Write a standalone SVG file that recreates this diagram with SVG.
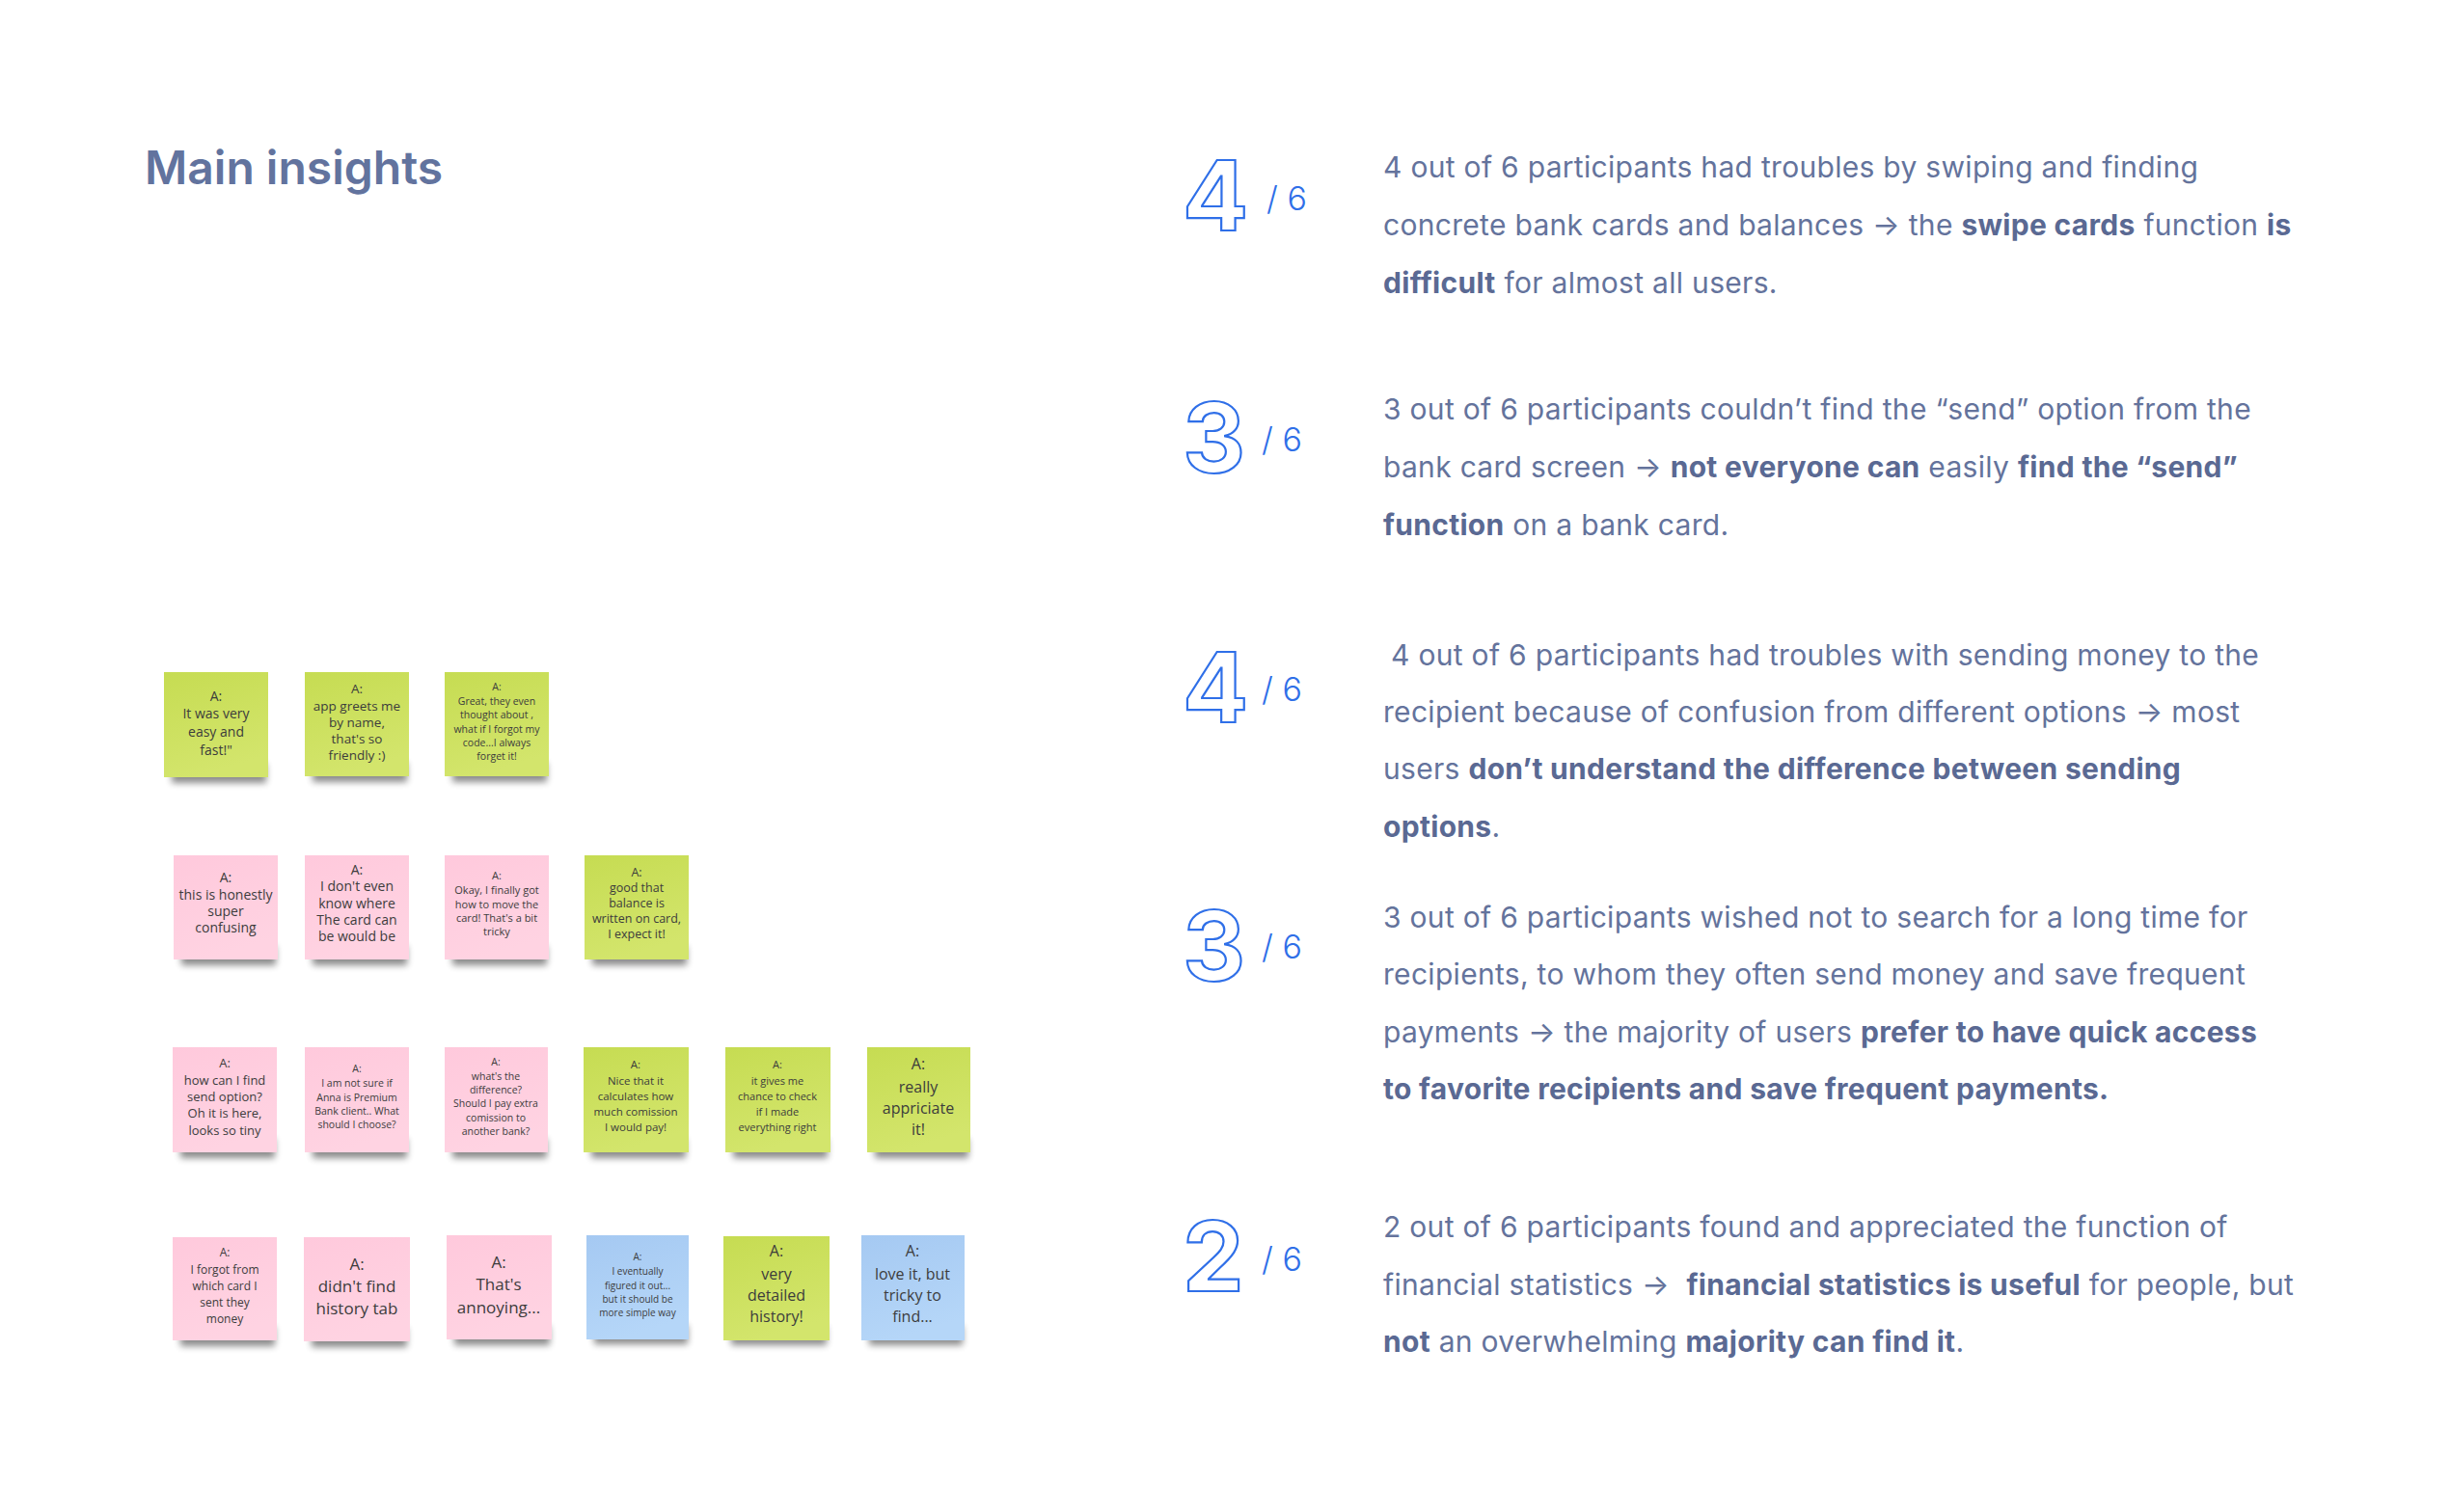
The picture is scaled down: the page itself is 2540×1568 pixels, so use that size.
<svg xmlns="http://www.w3.org/2000/svg" width="2540" height="1568" viewBox="0 0 2540 1568">
<style>
.title{font-family:Inter,"Liberation Sans",sans-serif;font-weight:600;font-size:48px;fill:#62739e}
.num{font-family:Inter,"Liberation Sans",sans-serif;font-weight:700;font-size:101px;fill:#fff;stroke:#2f6fe8;stroke-width:2.2}
.den{font-family:Inter,"Liberation Sans",sans-serif;font-weight:300;font-size:34px;fill:#2f6fe8}
.body{font-family:Inter,"Liberation Sans",sans-serif;font-weight:400;font-size:30px;letter-spacing:0.3px;fill:#64739c}
.b{font-weight:700;fill:#5a6993}
.nt{font-family:"Open Sans","Liberation Sans",sans-serif;fill:#3c3c3c;text-anchor:middle}
.g{fill:url(#gg)}
.p{fill:url(#gp)}
.bl{fill:url(#gb)}
.sh{fill:#000;opacity:0.45;filter:url(#blur)}
</style>
<defs>
<linearGradient id="gg" x1="0" y1="0" x2="0.3" y2="1"><stop offset="0" stop-color="#c6dc52"/><stop offset="1" stop-color="#d3e56c"/></linearGradient>
<linearGradient id="gp" x1="0" y1="0" x2="0.3" y2="1"><stop offset="0" stop-color="#ffc9dc"/><stop offset="1" stop-color="#ffd3e2"/></linearGradient>
<linearGradient id="gb" x1="0" y1="0" x2="0.3" y2="1"><stop offset="0" stop-color="#a5c9f2"/><stop offset="1" stop-color="#b5d6f8"/></linearGradient>
<filter id="blur" x="-20%" y="-50%" width="140%" height="200%"><feGaussianBlur stdDeviation="3.5"/></filter>
</defs>
<rect width="2540" height="1568" fill="#ffffff"/>

<text class="title" x="150" y="191">Main insights</text>

<g id="insight-1">
<text class="num" x="1226" y="239">4</text>
<text class="den" x="1313" y="218">/ 6</text>
<text class="body" x="1434" y="184">4 out of 6 participants had troubles by swiping and finding</text>
<text class="body" x="1434" y="244">concrete bank cards and balances → the <tspan class="b">swipe cards</tspan> function <tspan class="b">is</tspan></text>
<text class="body" x="1434" y="304"><tspan class="b">difficult</tspan> for almost all users.</text>
</g>

<g id="insight-2">
<text class="num" x="1226" y="490">3</text>
<text class="den" x="1308" y="468">/ 6</text>
<text class="body" x="1434" y="435">3 out of 6 participants couldn’t find the “send” option from the</text>
<text class="body" x="1434" y="495">bank card screen → <tspan class="b">not everyone can</tspan> easily <tspan class="b">find the “send”</tspan></text>
<text class="body" x="1434" y="555"><tspan class="b">function</tspan> on a bank card.</text>
</g>

<g id="insight-3">
<text class="num" x="1226" y="749">4</text>
<text class="den" x="1308" y="727">/ 6</text>
<text class="body" x="1442" y="690">4 out of 6 participants had troubles with sending money to the</text>
<text class="body" x="1434" y="749">recipient because of confusion from different options → most</text>
<text class="body" x="1434" y="808">users <tspan class="b">don’t understand the difference between sending</tspan></text>
<text class="body" x="1434" y="868"><tspan class="b">options</tspan>.</text>
</g>

<g id="insight-4">
<text class="num" x="1226" y="1017">3</text>
<text class="den" x="1308" y="994">/ 6</text>
<text class="body" x="1434" y="962">3 out of 6 participants wished not to search for a long time for</text>
<text class="body" x="1434" y="1021">recipients, to whom they often send money and save frequent</text>
<text class="body" x="1434" y="1081">payments → the majority of users <tspan class="b">prefer to have quick access</tspan></text>
<text class="body" x="1434" y="1140"><tspan class="b">to favorite recipients and save frequent payments.</tspan></text>
</g>

<g id="insight-5">
<text class="num" x="1226" y="1339">2</text>
<text class="den" x="1308" y="1318">/ 6</text>
<text class="body" x="1434" y="1283">2 out of 6 participants found and appreciated the function of</text>
<text class="body" x="1434" y="1343">financial statistics →&#160; <tspan class="b">financial statistics is useful</tspan> for people, but</text>
<text class="body" x="1434" y="1402"><tspan class="b">not</tspan> an overwhelming <tspan class="b">majority can find it</tspan>.</text>
</g>

<g id="notes">
<g id="note-r1-1">
<rect class="sh" x="178" y="792" width="98" height="20"/>
<rect class="g" x="170" y="697" width="108" height="109"/>
<text class="nt" font-size="14"><tspan x="224" y="727">A:</tspan><tspan x="224" y="745">It was very</tspan><tspan x="224" y="764">easy and</tspan><tspan x="224" y="783">fast!"</tspan></text>
</g>
<g id="note-r1-2">
<rect class="sh" x="324" y="791" width="98" height="20"/>
<rect class="g" x="316" y="697" width="108" height="108"/>
<text class="nt" font-size="13.5"><tspan x="370" y="719">A:</tspan><tspan x="370" y="737">app greets me</tspan><tspan x="370" y="754">by name,</tspan><tspan x="370" y="771">that's so</tspan><tspan x="370" y="788">friendly :)</tspan></text>
</g>
<g id="note-r1-3">
<rect class="sh" x="469" y="791" width="98" height="20"/>
<rect class="g" x="461" y="697" width="108" height="108"/>
<text class="nt" font-size="10.5"><tspan x="515" y="716">A:</tspan><tspan x="515" y="731">Great, they even</tspan><tspan x="515" y="745">thought about ,</tspan><tspan x="515" y="760">what if I forgot my</tspan><tspan x="515" y="774">code...I always</tspan><tspan x="515" y="788">forget it!</tspan></text>
</g>

<g id="note-r2-1">
<rect class="sh" x="188" y="981" width="98" height="20"/>
<rect class="p" x="180" y="887" width="108" height="108"/>
<text class="nt" font-size="14"><tspan x="234" y="915">A:</tspan><tspan x="234" y="933">this is honestly</tspan><tspan x="234" y="950">super</tspan><tspan x="234" y="967">confusing</tspan></text>
</g>
<g id="note-r2-2">
<rect class="sh" x="324" y="981" width="98" height="20"/>
<rect class="p" x="316" y="887" width="108" height="108"/>
<text class="nt" font-size="14"><tspan x="370" y="907">A:</tspan><tspan x="370" y="924">I don't even</tspan><tspan x="370" y="942">know where</tspan><tspan x="370" y="959">The card can</tspan><tspan x="370" y="976">be would be</tspan></text>
</g>
<g id="note-r2-3">
<rect class="sh" x="469" y="981" width="98" height="20"/>
<rect class="p" x="461" y="887" width="108" height="108"/>
<text class="nt" font-size="11"><tspan x="515" y="912">A:</tspan><tspan x="515" y="927">Okay, I finally got</tspan><tspan x="515" y="942">how to move the</tspan><tspan x="515" y="956">card! That's a bit</tspan><tspan x="515" y="970">tricky</tspan></text>
</g>
<g id="note-r2-4">
<rect class="sh" x="614" y="981" width="98" height="20"/>
<rect class="g" x="606" y="887" width="108" height="108"/>
<text class="nt" font-size="12.5"><tspan x="660" y="909">A:</tspan><tspan x="660" y="925">good that</tspan><tspan x="660" y="941">balance is</tspan><tspan x="660" y="957">written on card,</tspan><tspan x="660" y="973">I expect it!</tspan></text>
</g>

<g id="note-r3-1">
<rect class="sh" x="187" y="1181" width="98" height="20"/>
<rect class="p" x="179" y="1086" width="108" height="109"/>
<text class="nt" font-size="13"><tspan x="233" y="1107">A:</tspan><tspan x="233" y="1125">how can I find</tspan><tspan x="233" y="1142">send option?</tspan><tspan x="233" y="1159">Oh it is here,</tspan><tspan x="233" y="1177">looks so tiny</tspan></text>
</g>
<g id="note-r3-2">
<rect class="sh" x="324" y="1181" width="98" height="20"/>
<rect class="p" x="316" y="1086" width="108" height="109"/>
<text class="nt" font-size="10.5"><tspan x="370" y="1112">A:</tspan><tspan x="370" y="1127">I am not sure if</tspan><tspan x="370" y="1142">Anna is Premium</tspan><tspan x="370" y="1156">Bank client.. What</tspan><tspan x="370" y="1170">should I choose?</tspan></text>
</g>
<g id="note-r3-3">
<rect class="sh" x="469" y="1181" width="98" height="20"/>
<rect class="p" x="461" y="1086" width="107" height="109"/>
<text class="nt" font-size="10.5"><tspan x="514" y="1105">A:</tspan><tspan x="514" y="1120">what's the</tspan><tspan x="514" y="1134">difference?</tspan><tspan x="514" y="1148">Should I pay extra</tspan><tspan x="514" y="1163">comission to</tspan><tspan x="514" y="1177">another bank?</tspan></text>
</g>
<g id="note-r3-4">
<rect class="sh" x="613" y="1181" width="98" height="20"/>
<rect class="g" x="605" y="1086" width="109" height="109"/>
<text class="nt" font-size="11.5"><tspan x="659" y="1108">A:</tspan><tspan x="659" y="1125">Nice that it</tspan><tspan x="659" y="1141">calculates how</tspan><tspan x="659" y="1157">much comission</tspan><tspan x="659" y="1173">I would pay!</tspan></text>
</g>
<g id="note-r3-5">
<rect class="sh" x="760" y="1181" width="98" height="20"/>
<rect class="g" x="752" y="1086" width="109" height="109"/>
<text class="nt" font-size="11"><tspan x="806" y="1108">A:</tspan><tspan x="806" y="1125">it gives me</tspan><tspan x="806" y="1141">chance to check</tspan><tspan x="806" y="1157">if I made</tspan><tspan x="806" y="1173">everything right</tspan></text>
</g>
<g id="note-r3-6">
<rect class="sh" x="907" y="1181" width="97" height="20"/>
<rect class="g" x="899" y="1086" width="107" height="109"/>
<text class="nt" font-size="16"><tspan x="952" y="1109">A:</tspan><tspan x="952" y="1133">really</tspan><tspan x="952" y="1155">appriciate</tspan><tspan x="952" y="1177">it!</tspan></text>
</g>

<g id="note-r4-1">
<rect class="sh" x="187" y="1376" width="98" height="20"/>
<rect class="p" x="179" y="1283" width="108" height="107"/>
<text class="nt" font-size="12"><tspan x="233" y="1303">A:</tspan><tspan x="233" y="1321">I forgot from</tspan><tspan x="233" y="1338">which card I</tspan><tspan x="233" y="1355">sent they</tspan><tspan x="233" y="1372">money</tspan></text>
</g>
<g id="note-r4-2">
<rect class="sh" x="323" y="1377" width="99" height="20"/>
<rect class="p" x="315" y="1283" width="110" height="108"/>
<text class="nt" font-size="17"><tspan x="370" y="1317">A:</tspan><tspan x="370" y="1340">didn't find</tspan><tspan x="370" y="1363">history tab</tspan></text>
</g>
<g id="note-r4-3">
<rect class="sh" x="471" y="1375" width="99" height="20"/>
<rect class="p" x="463" y="1281" width="109" height="108"/>
<text class="nt" font-size="17"><tspan x="517" y="1315">A:</tspan><tspan x="517" y="1338">That's</tspan><tspan x="517" y="1362">annoying...</tspan></text>
</g>
<g id="note-r4-4">
<rect class="sh" x="616" y="1374" width="97" height="20"/>
<rect class="bl" x="608" y="1281" width="106" height="108"/>
<text class="nt" font-size="10"><tspan x="661" y="1307">A:</tspan><tspan x="661" y="1322">I eventually</tspan><tspan x="661" y="1337">figured it out...</tspan><tspan x="661" y="1351">but it should be</tspan><tspan x="661" y="1365">more simple way</tspan></text>
</g>
<g id="note-r4-5">
<rect class="sh" x="758" y="1375" width="99" height="20"/>
<rect class="g" x="750" y="1282" width="110" height="108"/>
<text class="nt" font-size="16"><tspan x="805" y="1303">A:</tspan><tspan x="805" y="1327">very</tspan><tspan x="805" y="1349">detailed</tspan><tspan x="805" y="1371">history!</tspan></text>
</g>
<g id="note-r4-6">
<rect class="sh" x="901" y="1375" width="97" height="20"/>
<rect class="bl" x="893" y="1281" width="107" height="109"/>
<text class="nt" font-size="16"><tspan x="946" y="1303">A:</tspan><tspan x="946" y="1327">love it, but</tspan><tspan x="946" y="1349">tricky to</tspan><tspan x="946" y="1371">find...</tspan></text>
</g>
</g>
<g id="connectors"/>
</svg>
